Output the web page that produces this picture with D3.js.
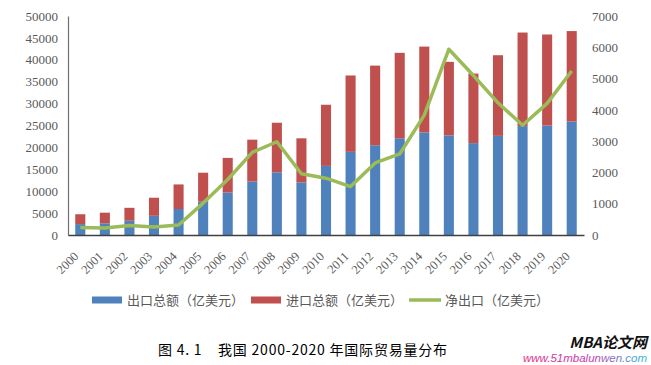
<!DOCTYPE html>
<html>
<head>
<meta charset="utf-8">
<script src="https://cdn.jsdelivr.net/npm/d3@7/dist/d3.min.js"></script>
<style>
  html, body { margin: 0; padding: 0; background: #fff; }
  svg { display: block; }
</style>
</head>
<body>
<svg id="chart" width="651" height="365"></svg>
<script>
// ---- data (亿美元) ----
const years = ["2000","2001","2002","2003","2004","2005","2006","2007","2008","2009","2010",
               "2011","2012","2013","2014","2015","2016","2017","2018","2019","2020"];
const exportsVal = [2492, 2661, 3256, 4382, 5933, 7620, 9690, 12205, 14307, 12016, 15778,
                    18984, 20487, 22090, 23423, 22735, 20976, 22635, 24867, 24990, 25900];
const importsVal = [2251, 2436, 2952, 4128, 5612, 6600, 7915, 9561, 11326, 10059, 13962,
                    17435, 18184, 19500, 19592, 16796, 15879, 18410, 21357, 20784, 20660];
const netExports = [241, 225, 304, 255, 321, 1020, 1775, 2643, 2981, 1957, 1815,
                    1549, 2303, 2590, 3831, 5939, 5097, 4225, 3509, 4206, 5240];
const leftTicks = [0, 5000, 10000, 15000, 20000, 25000, 30000, 35000, 40000, 45000, 50000];
const rightTicks = [0, 1000, 2000, 3000, 4000, 5000, 6000, 7000];
const legendLabels = ["出口总额（亿美元）", "进口总额（亿美元）", "净出口（亿美元）"];
const caption = "图 4. 1    我国 2000-2020 年国际贸易量分布";

// ---- styles ----
const C_EXP = "#4F81BD", C_IMP = "#C0504D", C_NET = "#9BBB59";
const numFont = "'Liberation Serif', 'Times New Roman', serif";
const cjkFont = "'Noto Sans CJK SC', 'Noto Sans', sans-serif";

const svg = d3.select("#chart");
const L = 68, R = 584, T = 16, B = 235;

const x = d3.scaleBand().domain(years).range([L, R]).paddingInner(0.59).paddingOuter(0.295);
const yL = d3.scaleLinear().domain([0, 50000]).range([B, T]);
const yR = d3.scaleLinear().domain([0, 7000]).range([B, T]);

// bars
const rows = years.map((yr, i) => ({yr, ex: exportsVal[i], im: importsVal[i], net: netExports[i]}));
svg.append("g").selectAll("rect.ex").data(rows).join("rect")
  .attr("x", d => x(d.yr)).attr("width", x.bandwidth())
  .attr("y", d => yL(d.ex)).attr("height", d => yL(0) - yL(d.ex))
  .attr("fill", C_EXP);
svg.append("g").selectAll("rect.im").data(rows).join("rect")
  .attr("x", d => x(d.yr)).attr("width", x.bandwidth())
  .attr("y", d => yL(d.ex + d.im)).attr("height", d => yL(d.ex) - yL(d.ex + d.im))
  .attr("fill", C_IMP);

// axes
const axL = svg.append("g").attr("transform", `translate(${L},0)`)
  .call(d3.axisLeft(yL).tickValues(leftTicks).tickSize(0).tickPadding(10).tickFormat(d3.format("d")));
axL.select(".domain").attr("stroke", "#6f6f6f").attr("stroke-width", 1.2);
axL.selectAll("text").attr("font-family", numFont).attr("font-size", 13).attr("fill", "#595959");

const axR = svg.append("g").attr("transform", `translate(${R},0)`)
  .call(d3.axisRight(yR).tickValues(rightTicks).tickSize(0).tickPadding(8).tickFormat(d3.format("d")));
axR.select(".domain").remove();
axR.selectAll("text").attr("font-family", numFont).attr("font-size", 13).attr("fill", "#595959");

const axB = svg.append("g").attr("transform", `translate(0,${B})`)
  .call(d3.axisBottom(x).tickSize(0).tickPadding(0));
axB.select(".domain").attr("stroke", "#404040").attr("stroke-width", 1.5);
axB.selectAll("text")
  .attr("font-family", numFont).attr("font-size", 12.5).attr("fill", "#595959")
  .attr("text-anchor", "end")
  .attr("dy", 0)
  .attr("transform", d => `translate(${-1},${257 - B}) rotate(-45)`)
  .attr("y", 0).attr("x", 0);

// net export line
const line = d3.line().x(d => x(d.yr) + x.bandwidth() / 2).y(d => yR(d.net));
svg.append("path").datum(rows).attr("d", line)
  .attr("fill", "none").attr("stroke", C_NET).attr("stroke-width", 3.5)
  .attr("stroke-linejoin", "round");

// legend
const lg = svg.append("g");
const legendItems = [
  {label: legendLabels[0], color: C_EXP, type: "rect", x: 92, tx: 127},
  {label: legendLabels[1], color: C_IMP, type: "rect", x: 251, tx: 286},
  {label: legendLabels[2], color: C_NET, type: "line", x: 409, tx: 445}
];
legendItems.forEach(it => {
  if (it.type === "rect") {
    lg.append("rect").attr("x", it.x).attr("y", 296.5).attr("width", 30).attr("height", 7).attr("fill", it.color);
  } else {
    lg.append("line").attr("x1", it.x).attr("x2", it.x + 32).attr("y1", 300).attr("y2", 300)
      .attr("stroke", it.color).attr("stroke-width", 3.5);
  }
  lg.append("text").attr("x", it.tx).attr("y", 300).attr("dy", "0.36em")
    .attr("font-family", cjkFont).attr("font-size", 13).attr("fill", "#595959").text(it.label);
});

// caption
svg.append("text").attr("x", 158).attr("y", 350).attr("dy", "0.36em")
  .attr("font-family", cjkFont).attr("font-size", 14).attr("fill", "#000")
  .attr("textLength", 289).attr("lengthAdjust", "spacing")
  .style("white-space", "pre").text(caption);

// watermark
const defs = svg.append("defs");
const grad = defs.append("linearGradient").attr("id", "wm").attr("x1", "0%").attr("x2", "100%");
grad.append("stop").attr("offset", "0%").attr("stop-color", "#e0308a");
grad.append("stop").attr("offset", "55%").attr("stop-color", "#c040b0");
grad.append("stop").attr("offset", "100%").attr("stop-color", "#30c0d8");
svg.append("text").attr("x", 647).attr("y", 348).attr("text-anchor", "end")
  .attr("font-family", cjkFont).attr("font-size", 15).attr("font-weight", "bold").attr("font-style", "italic")
  .attr("fill", "#111").text("MBA论文网");
svg.append("text").attr("x", 647).attr("y", 362).attr("text-anchor", "end")
  .attr("font-family", "'Liberation Sans', Arial, sans-serif").attr("font-size", 11.5).attr("font-style", "italic")
  .attr("fill", "url(#wm)").text("www.51mbalunwen.com");
</script>
</body>
</html>
